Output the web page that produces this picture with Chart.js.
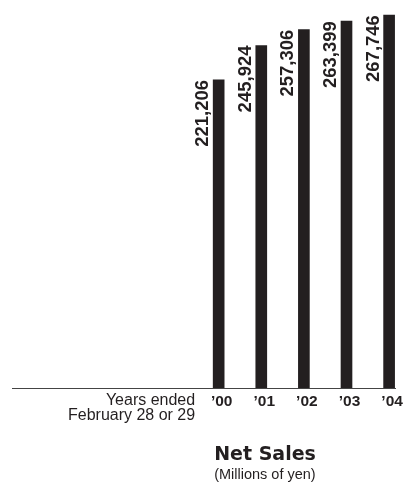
<!DOCTYPE html>
<html>
<head>
<meta charset="utf-8">
<script src="https://cdn.jsdelivr.net/npm/chart.js@4/dist/chart.umd.min.js"></script>
<style>
  html, body { margin: 0; padding: 0; background: #ffffff; }
  #wrap { position: relative; width: 404px; height: 487px; }
</style>
</head>
<body>
<div id="wrap"><canvas id="chart" width="404" height="487"></canvas></div>
<script>
// Net sales, millions of yen, fiscal years ended February 28 or 29
const years = ['\u201900', '\u201901', '\u201902', '\u201903', '\u201904'];
const netSales = [221206, 245924, 257306, 263399, 267746];
const valueLabels = ['221,206', '245,924', '257,306', '263,399', '267,746'];

const ink = '#231f20';

// Rotated value labels set just to the left of each bar, ending at the bar top
const barValueLabels = {
  id: 'barValueLabels',
  afterDatasetsDraw(chart) {
    const ctx = chart.ctx;
    const meta = chart.getDatasetMeta(0);
    ctx.save();
    ctx.fillStyle = ink;
    ctx.font = 'bold 18.5px "Liberation Sans", Arial, sans-serif';
    ctx.textAlign = 'right';
    ctx.textBaseline = 'alphabetic';
    meta.data.forEach((bar, i) => {
      ctx.save();
      ctx.translate(bar.x - bar.width / 2 - 5, bar.y);
      ctx.rotate(-Math.PI / 2);
      ctx.fillText(valueLabels[i], 0, 0);
      ctx.restore();
    });
    ctx.restore();
  }
};

// Axis caption and chart heading below the plot
const captions = {
  id: 'captions',
  afterDraw(chart) {
    const ctx = chart.ctx;
    const area = chart.chartArea;
    const firstBar = chart.getDatasetMeta(0).data[0];
    const left = firstBar.x - firstBar.width / 2 + 1;
    ctx.save();
    ctx.fillStyle = ink;
    ctx.textBaseline = 'alphabetic';

    ctx.font = '16px "Liberation Sans", Arial, sans-serif';
    ctx.textAlign = 'right';
    ctx.fillText('Years ended', left - 19, area.bottom + 17);
    ctx.fillText('February 28 or 29', left - 19, area.bottom + 32);

    ctx.textAlign = 'left';
    ctx.font = 'bold 19px "DejaVu Sans", sans-serif';
    ctx.fillText('Net Sales', left, area.bottom + 72);
    ctx.font = '14.5px "Liberation Sans", Arial, sans-serif';
    ctx.fillText('(Millions of yen)', left, area.bottom + 91);
    ctx.restore();
  }
};

new Chart(document.getElementById('chart'), {
  type: 'bar',
  data: {
    datasets: [{
      data: netSales.map((v, i) => ({ x: i, y: v })),
      backgroundColor: ink,
      borderWidth: 0,
      barThickness: 11
    }]
  },
  options: {
    responsive: false,
    animation: false,
    events: [],
    layout: { padding: { left: 12, right: 7, top: 0, bottom: 0 } },
    plugins: { legend: { display: false }, tooltip: { enabled: false }, title: { display: false } },
    scales: {
      x: {
        type: 'linear',
        min: -4.85,
        max: 4.15,
        offset: false,
        grid: { display: false, drawTicks: false },
        border: { display: true, color: '#444444', width: 1 },
        afterBuildTicks(scale) {
          scale.ticks = years.map((_, i) => ({ value: i }));
        },
        afterFit(scale) {
          scale.height = 99;
        },
        ticks: {
          autoSkip: false,
          maxRotation: 0,
          padding: 4,
          labelOffset: 3,
          color: ink,
          font: { family: '"Liberation Sans", Arial, sans-serif', size: 15.5, weight: 'bold' },
          callback: (v) => years[v]
        }
      },
      y: {
        display: false,
        min: 0,
        max: 278600
      }
    }
  },
  plugins: [barValueLabels, captions]
});
</script>
</body>
</html>
